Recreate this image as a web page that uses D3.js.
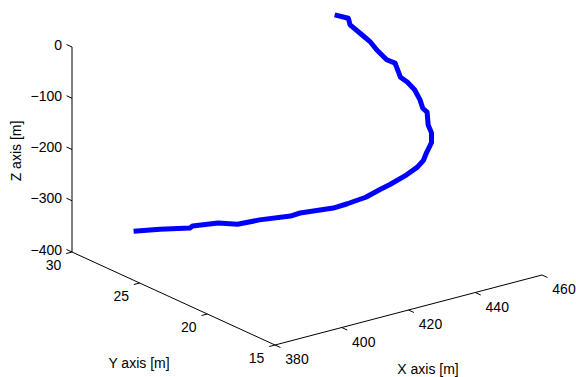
<!DOCTYPE html>
<html>
<head>
<meta charset="utf-8">
<script src="https://cdn.jsdelivr.net/npm/d3@7"></script>
<style>
  body { margin: 0; background: #fff; }
  text { font-family: "Liberation Sans", Arial, Helvetica, sans-serif; font-size: 14px; fill: #000; }
</style>
</head>
<body>
<div id="container"></div>
<script>
// trajectory samples (metres)
var trackX = [394.4, 399.9, 405.6, 406.8, 412.4, 415.4, 420.8, 427.6, 430.1, 437.2, 440.6, 444.9, 448.9, 450.8, 453.5, 455.1, 455.7, 456.2, 457.3, 456.5, 455.9, 456.8, 455.9, 456.3, 456.3, 455.3, 454.1, 454.5, 452.8, 451.4, 450.4, 449.2, 447.5, 447.4, 444.5];
var trackY = [29.0, 28.4, 27.6, 27.7, 27.2, 26.5, 26.2, 25.6, 25.5, 24.8, 24.6, 24.3, 24.2, 24.0, 23.4, 23.0, 22.7, 22.6, 22.5, 22.3, 22.4, 22.7, 22.8, 23.1, 23.5, 23.8, 24.0, 24.5, 24.7, 25.1, 25.3, 25.6, 26.1, 26.2, 26.5];
var trackZ = [-372, -370, -368, -367, -365, -364, -361, -358, -355, -349, -344, -335, -325, -317, -295, -278, -262, -247, -228, -205, -190, -170, -162, -150, -135, -122, -113, -92, -85, -68, -54, -42, -25, -13, -5];

var xDomain = [380, 460];
var yDomain = [15, 30];
var zDomain = [-400, 0];
var xTicks = [380, 400, 420, 440, 460];
var yTicks = [15, 20, 25, 30];
var zTicks = [0, -100, -200, -300, -400];

var width = 576, height = 377;

// screen position of (xmin, ymin, zmin) and the screen vectors of each axis
var corner = {x: 275, y: 345};
var xVec = {x: 267, y: -70};
var yVec = {x: -203, y: -93};
var zVec = {x: 0, y: -205};

var sx = d3.scaleLinear().domain(xDomain).range([0, 1]);
var sy = d3.scaleLinear().domain(yDomain).range([0, 1]);
var sz = d3.scaleLinear().domain(zDomain).range([0, 1]);

function proj(x, y, z) {
    var a = sx(x), b = sy(y), c = sz(z);
    return [corner.x + a*xVec.x + b*yVec.x + c*zVec.x,
            corner.y + a*xVec.y + b*yVec.y + c*zVec.y];
}
function unit(v) { var l = Math.sqrt(v.x*v.x + v.y*v.y); return {x: v.x/l, y: v.y/l}; }

var tickLen = 6;
var ux = unit(xVec), uy = unit(yVec);

var svg = d3.select("#container").append("svg")
    .attr("width", width)
    .attr("height", height);

svg.append("rect").attr("width", width).attr("height", height).attr("fill", "#fff");

var axes = svg.append("g")
    .attr("stroke", "#000")
    .attr("stroke-width", 1)
    .attr("fill", "none");

function seg(p, q) {
    axes.append("line")
        .attr("x1", p[0]).attr("y1", p[1])
        .attr("x2", q[0]).attr("y2", q[1]);
}

// axis lines
seg(proj(xDomain[0], yDomain[1], zDomain[0]), proj(xDomain[0], yDomain[1], zDomain[1]));
seg(proj(xDomain[0], yDomain[0], zDomain[0]), proj(xDomain[0], yDomain[1], zDomain[0]));
seg(proj(xDomain[0], yDomain[0], zDomain[0]), proj(xDomain[1], yDomain[0], zDomain[0]));

// z ticks point towards +y
zTicks.forEach(function(t) {
    var p = proj(xDomain[0], yDomain[1], t);
    seg(p, [p[0] + uy.x*tickLen, p[1] + uy.y*tickLen]);
});
// y ticks point towards -x
yTicks.forEach(function(t) {
    var p = proj(xDomain[0], t, zDomain[0]);
    seg(p, [p[0] - ux.x*tickLen, p[1] - ux.y*tickLen]);
});
// x ticks point towards -y
xTicks.forEach(function(t) {
    var p = proj(t, yDomain[0], zDomain[0]);
    seg(p, [p[0] - uy.x*tickLen, p[1] - uy.y*tickLen]);
});

var fmt = function(d) { return d < 0 ? "\u2212" + Math.abs(d) : "" + d; };

svg.selectAll(".zlabel")
    .data(zTicks)
    .enter().append("text")
    .attr("class", "zlabel")
    .attr("text-anchor", "end")
    .attr("dominant-baseline", "central")
    .attr("x", function(d) { return proj(xDomain[0], yDomain[1], d)[0] - 10; })
    .attr("y", function(d) { return proj(xDomain[0], yDomain[1], d)[1] - 2.5; })
    .text(fmt);

svg.selectAll(".ylabel")
    .data(yTicks)
    .enter().append("text")
    .attr("class", "ylabel")
    .attr("text-anchor", "middle")
    .attr("dominant-baseline", "central")
    .attr("x", function(d) { return proj(xDomain[0], d, zDomain[0])[0] - 18.5; })
    .attr("y", function(d) { return proj(xDomain[0], d, zDomain[0])[1] + 12.5; })
    .text(fmt);

svg.selectAll(".xlabel")
    .data(xTicks)
    .enter().append("text")
    .attr("class", "xlabel")
    .attr("text-anchor", "middle")
    .attr("dominant-baseline", "central")
    .attr("x", function(d) { return proj(d, yDomain[0], zDomain[0])[0] + 22; })
    .attr("y", function(d) { return proj(d, yDomain[0], zDomain[0])[1] + 14; })
    .text(fmt);

// axis titles
svg.append("text")
    .attr("text-anchor", "middle")
    .attr("dominant-baseline", "central")
    .attr("transform", "translate(16,151) rotate(-90)")
    .text("Z axis [m]");
svg.append("text")
    .attr("text-anchor", "middle")
    .attr("dominant-baseline", "central")
    .attr("x", 139).attr("y", 363)
    .text("Y axis [m]");
svg.append("text")
    .attr("text-anchor", "middle")
    .attr("dominant-baseline", "central")
    .attr("x", 428).attr("y", 369)
    .text("X axis [m]");

// trajectory
var idx = d3.range(trackX.length);
var line = d3.line()
    .x(function(i) { return proj(trackX[i], trackY[i], trackZ[i])[0]; })
    .y(function(i) { return proj(trackX[i], trackY[i], trackZ[i])[1]; });

svg.append("path")
    .datum(idx)
    .attr("class", "track")
    .attr("fill", "none")
    .attr("stroke", "#0000ff")
    .attr("stroke-width", 5)
    .attr("stroke-linejoin", "round")
    .attr("d", line);
</script>
</body>
</html>
